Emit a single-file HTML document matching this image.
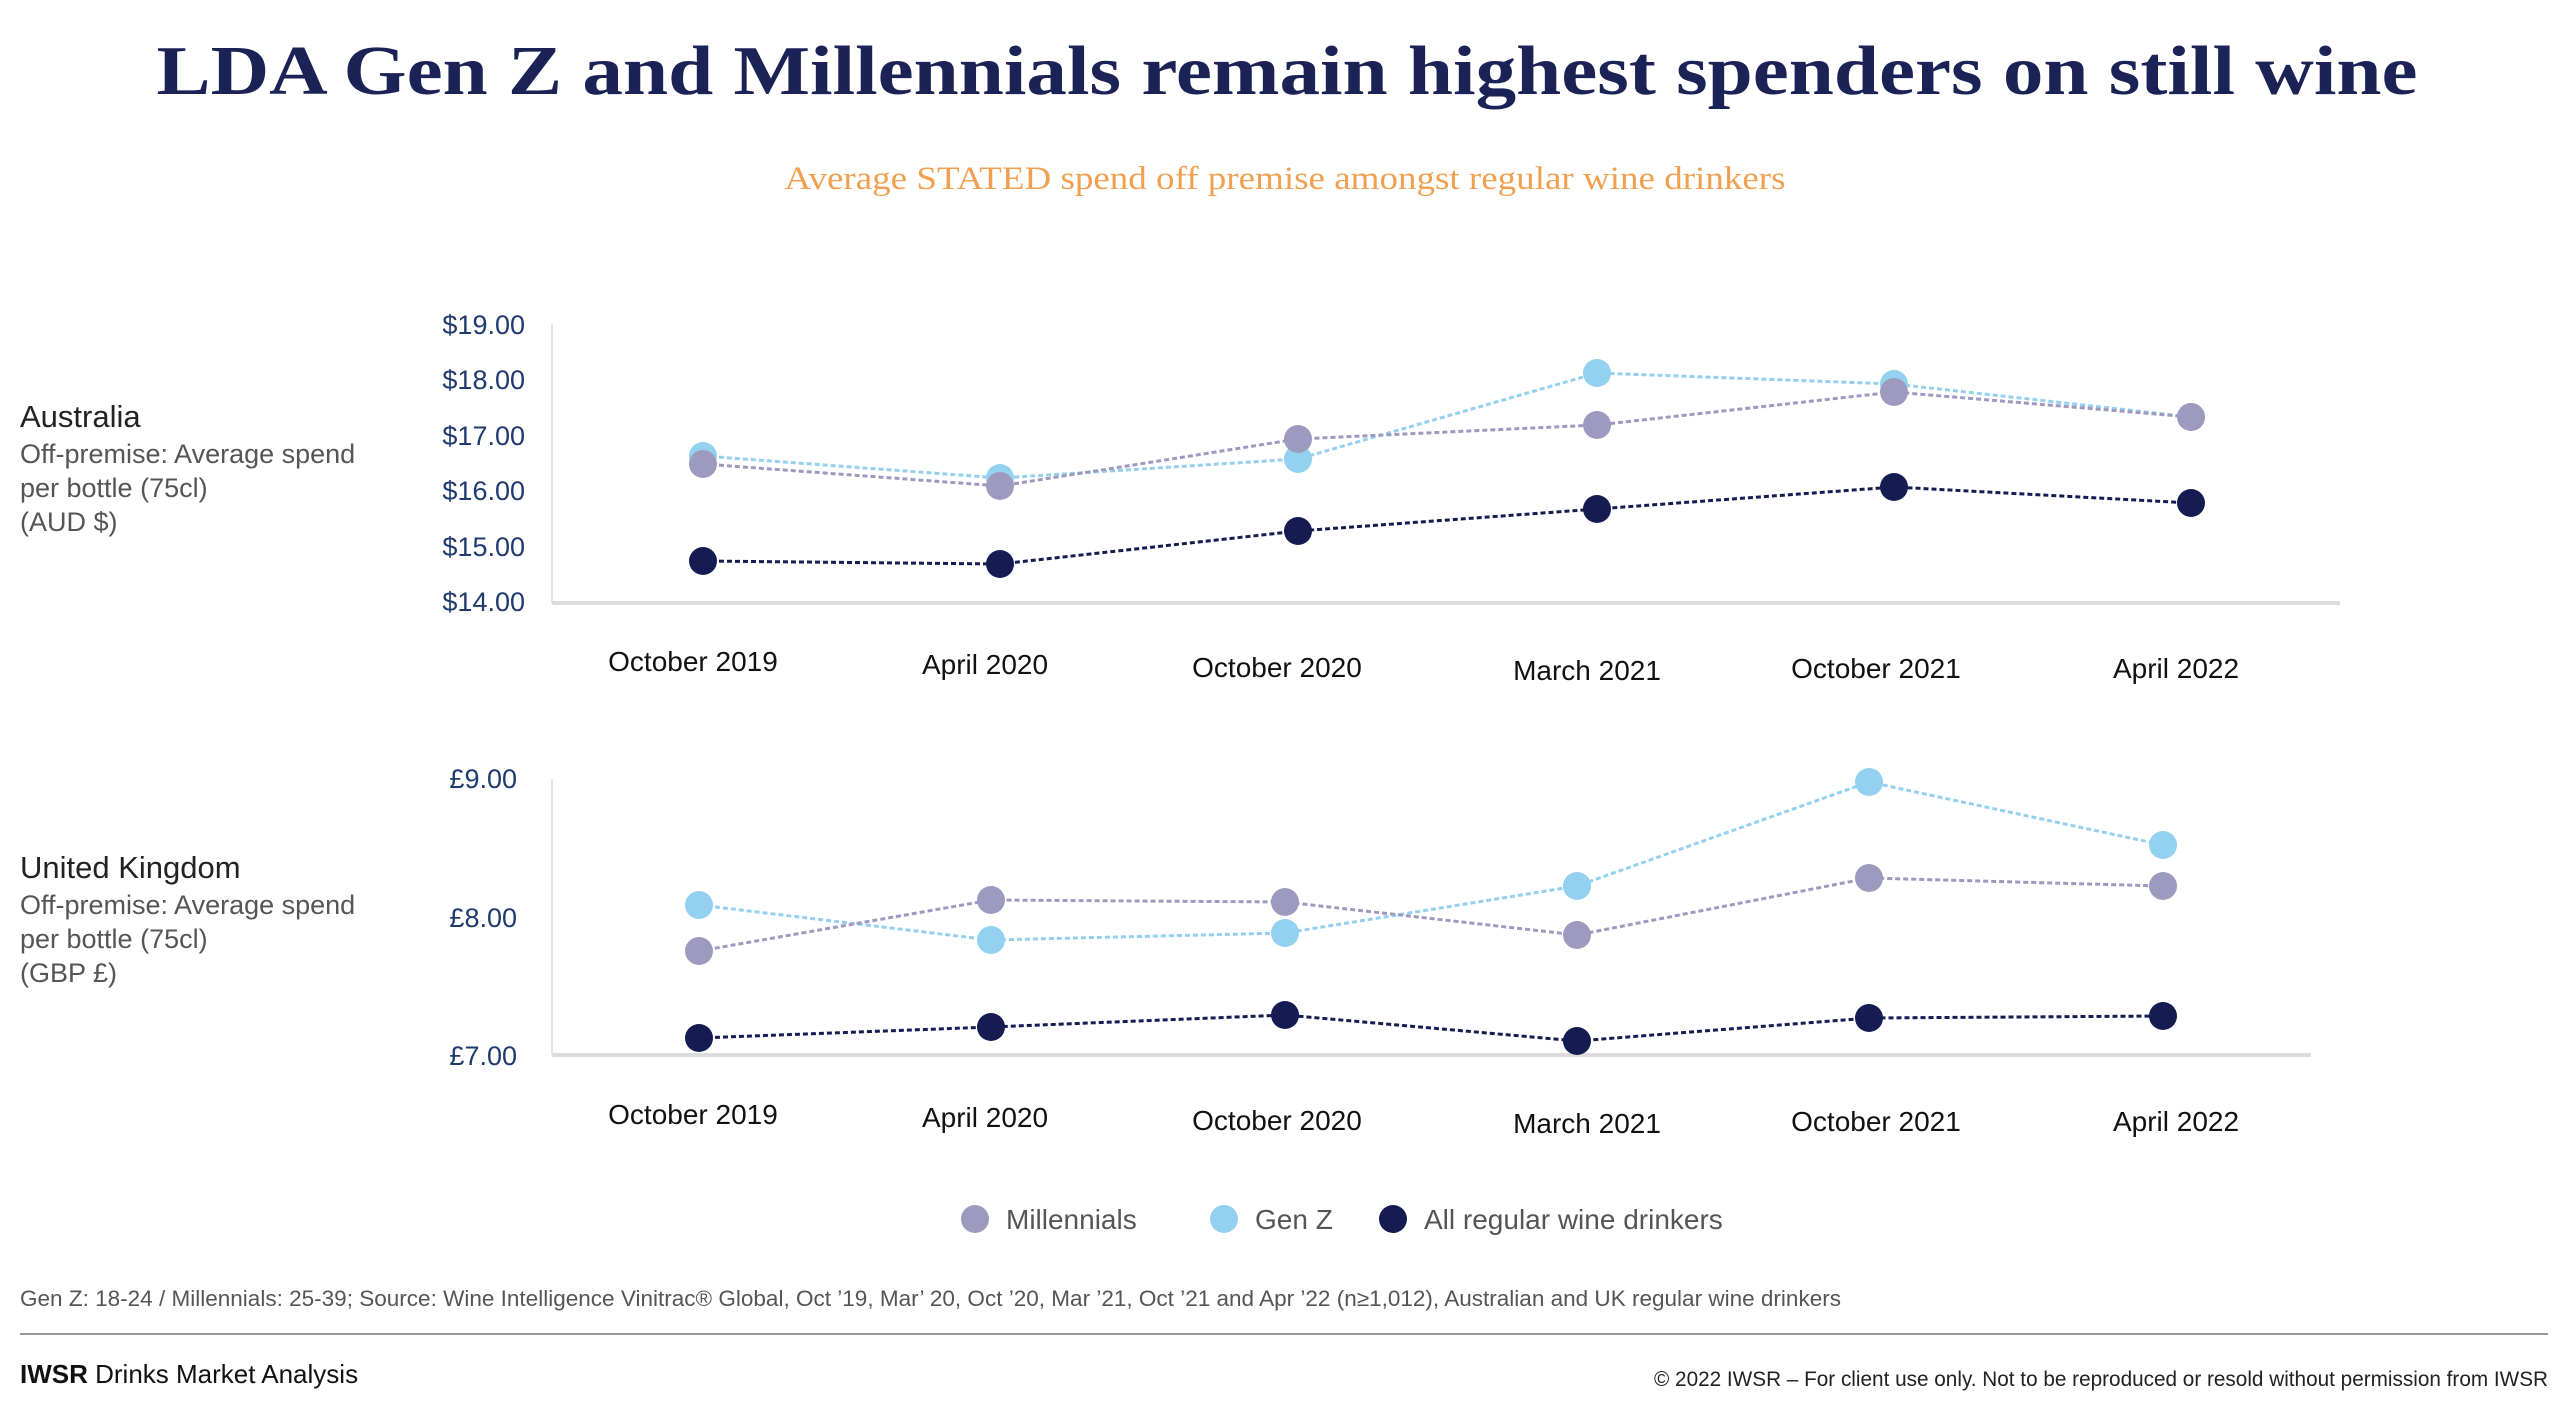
<!DOCTYPE html>
<html><head><meta charset="utf-8"><style>
html,body{margin:0;padding:0;background:#fff;}
svg{display:block;}
</style></head><body>
<svg width="2560" height="1402" viewBox="0 0 2560 1402" xmlns="http://www.w3.org/2000/svg">
<text x="1287" y="94" text-anchor="middle" textLength="2261" lengthAdjust="spacingAndGlyphs" font-family="Liberation Serif, serif" font-weight="bold" font-size="70" fill="#1b2256">LDA Gen Z and Millennials remain highest spenders on still wine</text>
<text x="1285" y="189" text-anchor="middle" textLength="1001" lengthAdjust="spacingAndGlyphs" font-family="Liberation Serif, serif" font-size="33" fill="#f0a050">Average STATED spend off premise amongst regular wine drinkers</text>

<g font-family="Liberation Sans, sans-serif">
<text x="20" y="427" font-size="31" fill="#222">Australia</text>
<text font-size="27" fill="#555"><tspan x="20" y="463">Off-premise: Average spend</tspan><tspan x="20" y="497">per bottle (75cl)</tspan><tspan x="20" y="531">(AUD $)</tspan></text>
<text x="20" y="878" font-size="31" fill="#222">United Kingdom</text>
<text font-size="27" fill="#555"><tspan x="20" y="914">Off-premise: Average spend</tspan><tspan x="20" y="948">per bottle (75cl)</tspan><tspan x="20" y="982">(GBP £)</tspan></text>
</g>

<!-- Top chart -->
<g transform="translate(-3,-3)">
<g font-family="Liberation Sans, sans-serif" font-size="27" fill="#1f3a6e" text-anchor="end">
<text x="528" y="337">$19.00</text><text x="528" y="392">$18.00</text><text x="528" y="448">$17.00</text><text x="528" y="503">$16.00</text><text x="528" y="559">$15.00</text><text x="528" y="614">$14.00</text>
</g>
<line x1="555" y1="327" x2="555" y2="606" stroke="#e4e4e4" stroke-width="2"/>
<line x1="555" y1="606" x2="2343" y2="606" stroke="#dcdcdc" stroke-width="4"/>
<g font-family="Liberation Sans, sans-serif" font-size="28" fill="#111" text-anchor="middle">
<text x="696" y="674">October 2019</text><text x="988" y="677">April 2020</text><text x="1280" y="680">October 2020</text><text x="1590" y="683">March 2021</text><text x="1879" y="681">October 2021</text><text x="2179" y="681">April 2022</text>
</g>
<g fill="none" stroke-width="3" stroke-dasharray="5,3">
<polyline stroke="#94d0f0" points="706,459 1003,481 1301,462 1600,376 1897,387 2194,420"/>
<polyline stroke="#9e9abf" points="706,467 1003,489 1301,442 1600,428 1897,395 2194,420"/>
<polyline stroke="#141c52" points="706,564 1003,567 1301,534 1600,512 1897,490 2194,506"/>
</g>
<g fill="#94d0f0"><circle cx="706" cy="459" r="14"/><circle cx="1003" cy="481" r="14"/><circle cx="1301" cy="462" r="14"/><circle cx="1600" cy="376" r="14"/><circle cx="1897" cy="387" r="14"/><circle cx="2194" cy="420" r="14"/></g>
<g fill="#9e9abf"><circle cx="706" cy="467" r="14"/><circle cx="1003" cy="489" r="14"/><circle cx="1301" cy="442" r="14"/><circle cx="1600" cy="428" r="14"/><circle cx="1897" cy="395" r="14"/><circle cx="2194" cy="420" r="14"/></g>
<g fill="#141c52"><circle cx="706" cy="564" r="14"/><circle cx="1003" cy="567" r="14"/><circle cx="1301" cy="534" r="14"/><circle cx="1600" cy="512" r="14"/><circle cx="1897" cy="490" r="14"/><circle cx="2194" cy="506" r="14"/></g>
</g>

<!-- Bottom chart -->
<g transform="translate(-3,-4)">
<g font-family="Liberation Sans, sans-serif" font-size="27" fill="#1f3a6e" text-anchor="end">
<text x="520" y="792">£9.00</text><text x="520" y="931">£8.00</text><text x="520" y="1069">£7.00</text>
</g>
<line x1="555" y1="783" x2="555" y2="1059" stroke="#e4e4e4" stroke-width="2"/>
<line x1="555" y1="1059" x2="2314" y2="1059" stroke="#dcdcdc" stroke-width="4"/>
<g font-family="Liberation Sans, sans-serif" font-size="28" fill="#111" text-anchor="middle">
<text x="696" y="1128">October 2019</text><text x="988" y="1131">April 2020</text><text x="1280" y="1134">October 2020</text><text x="1590" y="1137">March 2021</text><text x="1879" y="1135">October 2021</text><text x="2179" y="1135">April 2022</text>
</g>
<g fill="none" stroke-width="3" stroke-dasharray="5,3">
<polyline stroke="#94d0f0" points="702,909 994,944 1288,937 1580,890 1872,786 2166,849"/>
<polyline stroke="#9e9abf" points="702,955 994,904 1288,906 1580,939 1872,882 2166,890"/>
<polyline stroke="#141c52" points="702,1042 994,1031 1288,1019 1580,1045 1872,1022 2166,1020"/>
</g>
<g fill="#94d0f0"><circle cx="702" cy="909" r="14"/><circle cx="994" cy="944" r="14"/><circle cx="1288" cy="937" r="14"/><circle cx="1580" cy="890" r="14"/><circle cx="1872" cy="786" r="14"/><circle cx="2166" cy="849" r="14"/></g>
<g fill="#9e9abf"><circle cx="702" cy="955" r="14"/><circle cx="994" cy="904" r="14"/><circle cx="1288" cy="906" r="14"/><circle cx="1580" cy="939" r="14"/><circle cx="1872" cy="882" r="14"/><circle cx="2166" cy="890" r="14"/></g>
<g fill="#141c52"><circle cx="702" cy="1042" r="14"/><circle cx="994" cy="1031" r="14"/><circle cx="1288" cy="1019" r="14"/><circle cx="1580" cy="1045" r="14"/><circle cx="1872" cy="1022" r="14"/><circle cx="2166" cy="1020" r="14"/></g>
</g>

<!-- Legend -->
<circle cx="975" cy="1219" r="14" fill="#9e9abf"/>
<circle cx="1224" cy="1219" r="14" fill="#94d0f0"/>
<circle cx="1393" cy="1219" r="14" fill="#141c52"/>
<g font-family="Liberation Sans, sans-serif" font-size="28" fill="#555">
<text x="1006" y="1229">Millennials</text><text x="1255" y="1229">Gen Z</text><text x="1424" y="1229">All regular wine drinkers</text>
</g>

<text x="20" y="1306" textLength="1821" lengthAdjust="spacingAndGlyphs" font-family="Liberation Sans, sans-serif" font-size="22" fill="#555">Gen Z: 18-24 / Millennials: 25-39; Source: Wine Intelligence Vinitrac® Global, Oct ’19, Mar’ 20, Oct ’20, Mar ’21, Oct ’21 and Apr ’22 (n≥1,012), Australian and UK regular wine drinkers</text>
<line x1="20" y1="1334" x2="2548" y2="1334" stroke="#999" stroke-width="2"/>
<text x="20" y="1383" font-family="Liberation Sans, sans-serif" font-size="26" fill="#111"><tspan font-weight="bold">IWSR</tspan> Drinks Market Analysis</text>
<text x="2548" y="1386" text-anchor="end" textLength="894" lengthAdjust="spacingAndGlyphs" font-family="Liberation Sans, sans-serif" font-size="21" fill="#222">© 2022 IWSR – For client use only. Not to be reproduced or resold without permission from IWSR</text>
</svg>
</body></html>
